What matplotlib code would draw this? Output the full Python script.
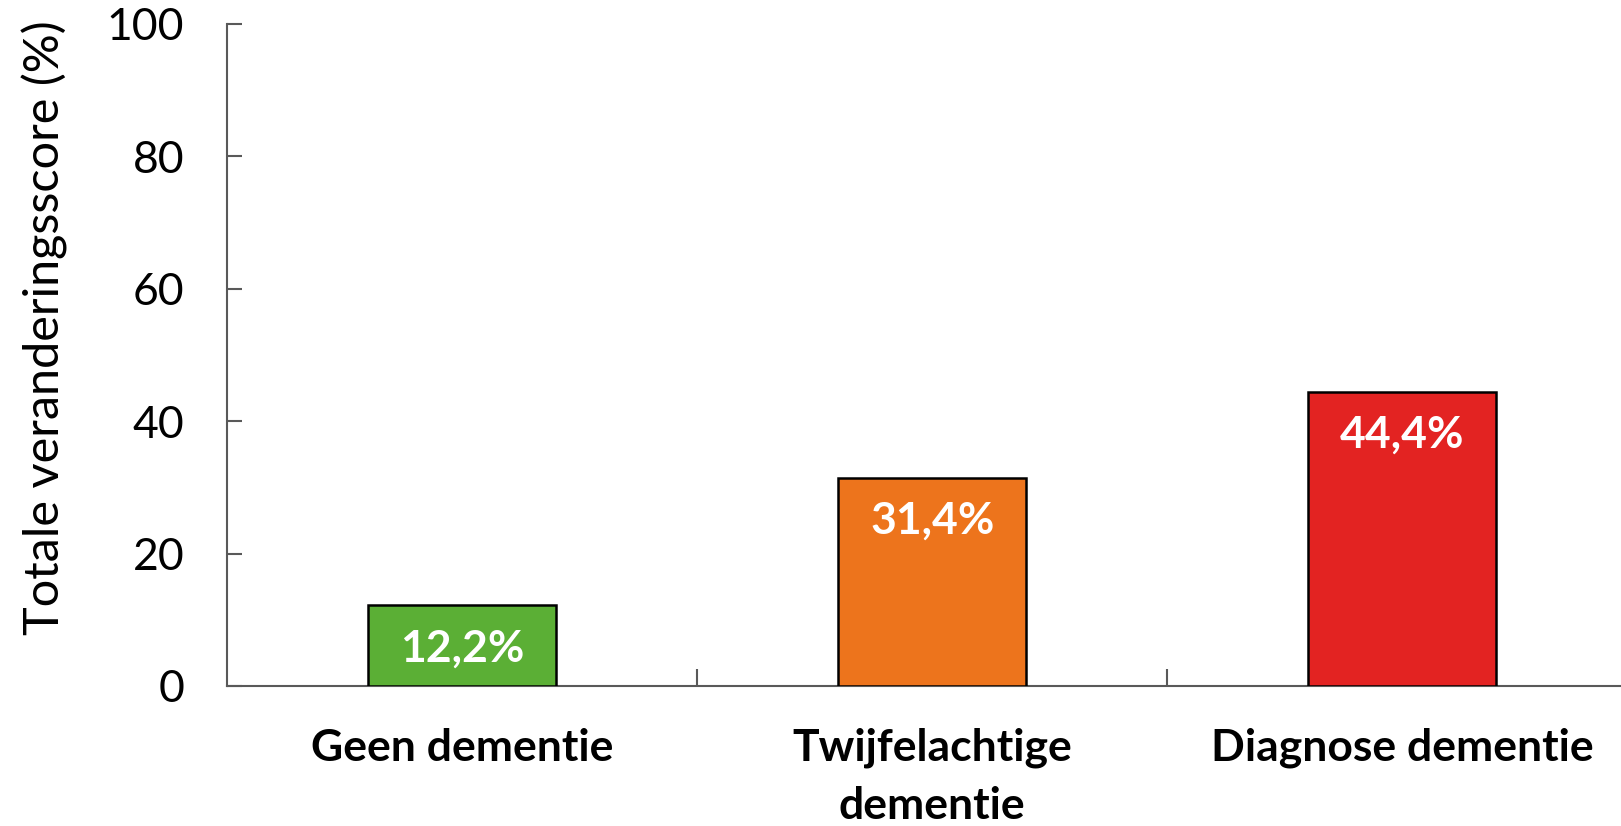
import numpy as np
import matplotlib.pyplot as plt

categories = ["Geen dementie", "Twijfelachtige\ndementie", "Diagnose dementie"]
scores = [12.2, 31.4, 44.4]
value_labels = ["12,2%", "31,4%", "44,4%"]
colors = ["#5BAF35", "#ED741C", "#E32322"]

plt.rcParams['font.family'] = ['Lato', 'DejaVu Sans']

fig = plt.figure(figsize=(16.21, 8.26), dpi=100)
ax = fig.add_axes([0.1403, 0.1695, 0.8696, 0.8015])

x = np.arange(len(categories))
bars = ax.bar(x, scores, width=0.4, color=colors, edgecolor="black", linewidth=1.8, zorder=3)

for b, lab in zip(bars, value_labels):
    ax.annotate(lab, (b.get_x() + b.get_width() / 2, b.get_height()),
                xytext=(0, -31), textcoords="offset points",
                ha="center", va="center", color="white",
                fontsize=32, fontweight="bold")

ax.set_xlim(-0.5, 2.5)
ax.set_ylim(0, 100)
ax.set_yticks([0, 20, 40, 60, 80, 100])
ax.tick_params(axis="y", direction="in", length=11, width=1.5, color="#595959",
               labelsize=32, pad=31)

# category separators on the x axis, category names as minor labels
ax.set_xticks([0.5, 1.5])
ax.set_xticklabels([])
ax.tick_params(axis="x", direction="in", length=12, width=1.5, color="#595959")
ax.set_xticks(x, minor=True)
ax.set_xticklabels(categories, minor=True, fontsize=32, fontweight="bold", linespacing=1.55)
ax.tick_params(axis="x", which="minor", length=0, pad=30)

ax.set_ylabel("Totale veranderingsscore (%)", fontsize=35, labelpad=28, y=0.541)

for s in ["top", "right"]:
    ax.spines[s].set_visible(False)
for s in ["left", "bottom"]:
    ax.spines[s].set_color("#595959")
    ax.spines[s].set_linewidth(1.5)

fig.savefig("out.png", dpi=100)
